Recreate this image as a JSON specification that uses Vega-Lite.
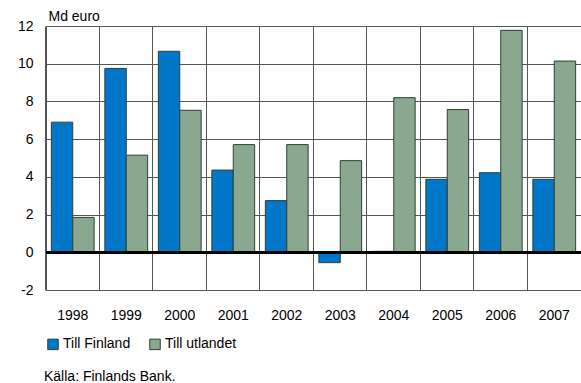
{
  "$schema": "https://vega.github.io/schema/vega-lite/v6.json",
  "width": 535,
  "height": 264,
  "autosize": {"type": "none"},
  "padding": {"left": 46, "top": 26, "right": 0, "bottom": 93},
  "background": "white",
  "config": {
    "font": "Liberation Sans",
    "view": {"stroke": "#555555", "strokeWidth": 1},
    "axis": {"labelFont": "Liberation Sans", "labelFontSize": 14, "labelColor": "#000000", "titleFont": "Liberation Sans", "labelOverlap": false},
    "axisY": {"labelOverlap": false},
    "legend": {"labelFont": "Liberation Sans", "labelFontSize": 14, "labelColor": "#000000"}
  },
  "title": {
    "text": "Källa: Finlands Bank.",
    "orient": "bottom",
    "anchor": "start",
    "frame": "group",
    "offset": 18,
    "dx": -2,
    "fontSize": 14,
    "fontWeight": "normal",
    "font": "Liberation Sans",
    "color": "#000000"
  },
  "data": {
    "values": [
      {"year": "1998", "series": "Till Finland", "value": 6.9},
      {"year": "1998", "series": "Till utlandet", "value": 1.85},
      {"year": "1999", "series": "Till Finland", "value": 9.75},
      {"year": "1999", "series": "Till utlandet", "value": 5.15},
      {"year": "2000", "series": "Till Finland", "value": 10.66},
      {"year": "2000", "series": "Till utlandet", "value": 7.53},
      {"year": "2001", "series": "Till Finland", "value": 4.36},
      {"year": "2001", "series": "Till utlandet", "value": 5.71},
      {"year": "2002", "series": "Till Finland", "value": 2.74},
      {"year": "2002", "series": "Till utlandet", "value": 5.71},
      {"year": "2003", "series": "Till Finland", "value": -0.55},
      {"year": "2003", "series": "Till utlandet", "value": 4.86},
      {"year": "2004", "series": "Till Finland", "value": 0.05},
      {"year": "2004", "series": "Till utlandet", "value": 8.2},
      {"year": "2005", "series": "Till Finland", "value": 3.87},
      {"year": "2005", "series": "Till utlandet", "value": 7.57},
      {"year": "2006", "series": "Till Finland", "value": 4.22},
      {"year": "2006", "series": "Till utlandet", "value": 11.77},
      {"year": "2007", "series": "Till Finland", "value": 3.87},
      {"year": "2007", "series": "Till utlandet", "value": 10.14}
    ]
  },
  "encoding": {
    "y": {
      "field": "value",
      "type": "quantitative",
      "scale": {"domain": [-2, 12], "nice": false},
      "axis": {
        "values": [-2, 0, 2, 4, 6, 8, 10, 12],
        "labelExpr": "'' + datum.value",
        "labelOverlap": false,
        "labelBound": false,
        "title": "Md euro",
        "titleAngle": 0,
        "titleAlign": "left",
        "titleBaseline": "middle",
        "titleX": 2,
        "titleY": -10,
        "titleFontSize": 14,
        "titleFontWeight": "normal",
        "titleColor": "#000000",
        "ticks": false,
        "domain": false,
        "labelPadding": 13,
        "grid": true,
        "gridColor": "#555555",
        "gridOpacity": 1,
        "gridWidth": 1
      }
    }
  },
  "layer": [
    {
      "mark": {"type": "bar", "stroke": "#2f3f35", "strokeWidth": 1},
      "encoding": {
        "x": {
          "field": "year",
          "type": "ordinal",
          "scale": {"paddingInner": 0.2, "paddingOuter": 0.1},
          "axis": {
            "title": null,
            "labelAngle": 0,
            "ticks": false,
            "domain": false,
            "grid": true,
            "bandPosition": -0.125,
            "gridColor": "#555555",
            "gridOpacity": 1,
            "gridWidth": 1,
            "labelPadding": 18
          }
        },
        "xOffset": {"field": "series", "type": "nominal", "sort": ["Till Finland", "Till utlandet"]},
        "color": {
          "field": "series",
          "type": "nominal",
          "scale": {"domain": ["Till Finland", "Till utlandet"], "range": ["#0077c8", "#8aa88f"]},
          "legend": {
            "title": null,
            "orient": "none",
            "legendX": 0,
            "legendY": 311,
            "direction": "horizontal",
            "symbolType": "square",
            "symbolSize": 110,
            "symbolStrokeColor": "#2f3f35",
            "symbolStrokeWidth": 1,
            "symbolOpacity": 1,
            "labelOffset": 3,
            "columnPadding": 16
          }
        }
      }
    },
    {
      "mark": {"type": "rule", "color": "#000000", "strokeWidth": 2},
      "encoding": {"y": {"datum": 0}}
    }
  ]
}
